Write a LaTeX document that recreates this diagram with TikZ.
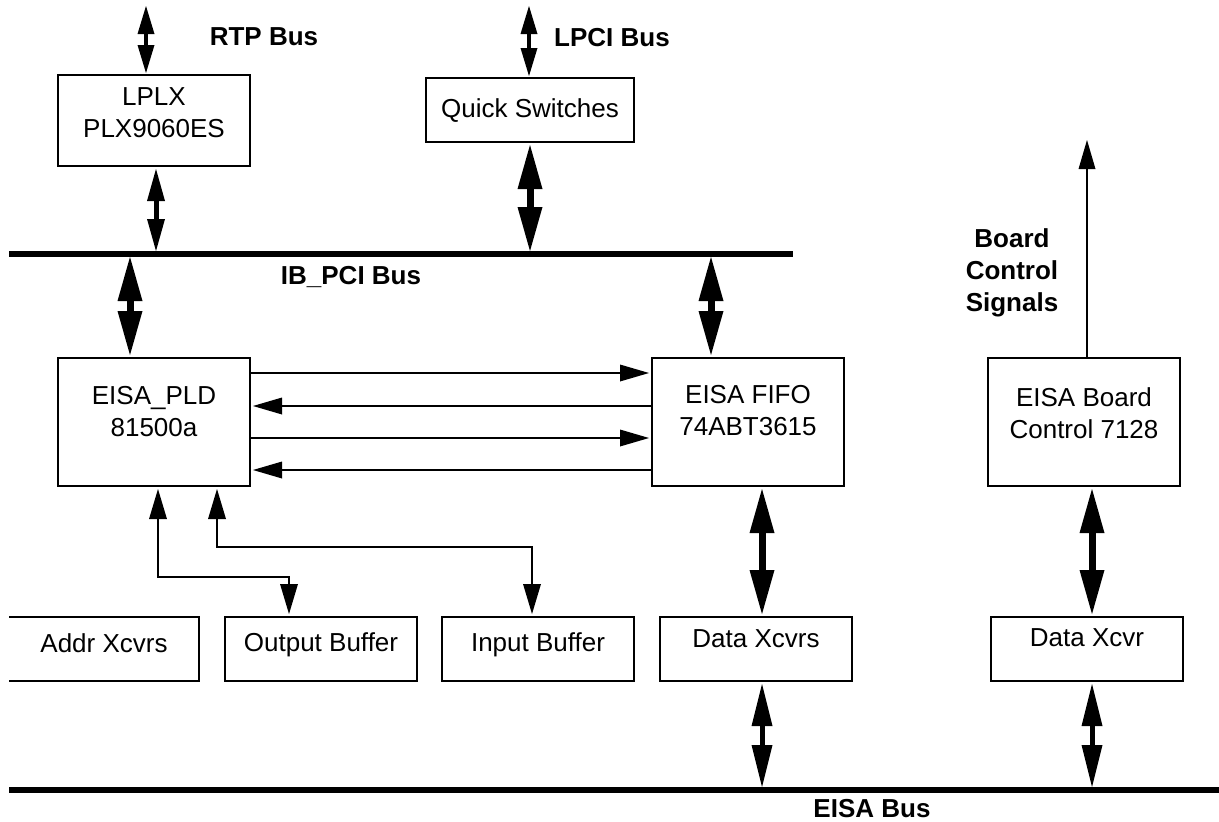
\documentclass[tikz,border=0pt]{standalone}
\usepackage{fontspec}
\setmainfont{Liberation Sans}
\usepackage{tikz}
\usetikzlibrary{arrows.meta,positioning,calc}
\newcommand{\blkfont}{\fontsize{26}{32}\selectfont}
\tikzset{
  blk/.style={draw, line width=2.5pt, minimum width=192pt, minimum height=64pt,
    inner sep=0pt, outer sep=0pt, align=center, font=\blkfont},
  lbl/.style={font=\blkfont\bfseries, align=center, inner sep=0pt, text depth=0pt},
  busline/.style={line width=6pt},
  % one-way signal lines
  sig/.style={line width=2.5pt, -{Triangle[length=29pt,width=17pt,line width=0pt]},
    shorten >=3pt},
  sigbi/.style={line width=2.5pt,
    {Triangle[length=30pt,width=18pt,line width=0pt]}-{Triangle[length=30pt,width=18pt,line width=0pt]},
    shorten >=3pt, shorten <=3pt},
  % two-way bus links
  thinbi/.style={line width=4pt,
    {Triangle[length=28pt,width=17pt,line width=0pt]}-{Triangle[length=28pt,width=17pt,line width=0pt]},
    shorten >=2pt, shorten <=3pt},
  midbi/.style={line width=5pt,
    {Triangle[length=32pt,width=18pt,line width=0pt]}-{Triangle[length=32pt,width=18pt,line width=0pt]},
    shorten >=3pt, shorten <=3pt},
  lowbi/.style={line width=5pt,
    {Triangle[length=42pt,width=21pt,line width=0pt]}-{Triangle[length=42pt,width=21pt,line width=0pt]},
    shorten >=3pt, shorten <=3pt},
  fatbi/.style={line width=7pt,
    {Triangle[length=44pt,width=25pt,line width=0pt]}-{Triangle[length=44pt,width=25pt,line width=0pt]},
    shorten >=3pt, shorten <=3pt},
}

\begin{document}
\begin{tikzpicture}[x=1pt,y=-1pt]
  \useasboundingbox (0,0) rectangle (1219,822);
  % buses
  \coordinate (ibL) at (9,254);
  \coordinate (ibR) at (793,254);
  \coordinate (eisaL) at (9,790);
  \coordinate (eisaR) at (1219,790);
  \coordinate (rtptop) at (146,3);
  \coordinate (lpcitop) at (529,3);
  \coordinate (sigtop) at (1087,137);
  \draw[busline] (ibL) -- (ibR);
  \draw[busline] (eisaL) -- (eisaR);

  \node[lbl] (rtplbl) at (264,37) {RTP Bus};
  \node[lbl] (lpcilbl) at (612,37) {LPCI Bus};
  \node[lbl] (iblbl) at (351,275) {IB\_PCI Bus};
  \node[lbl] (eisalbl) at (872,808) {EISA Bus};
  \node[lbl] (sigslbl) at (1012,270) {Board\\Control\\Signals};

  % blocks
  \node[blk, minimum height=91pt, text depth=16pt] (lplx) at (154,120.5) {LPLX\\PLX9060ES};
  \node[blk, minimum width=208pt, text depth=4pt] (qsw) at (530,110) {Quick Switches};
  \node[blk, minimum height=128pt, text depth=22pt] (pld) at (154,422) {EISA\_PLD\\81500a};
  \node[blk, minimum height=128pt, text depth=24pt] (fifo) at (748,422) {EISA FIFO\\74ABT3615};
  \node[blk, minimum height=128pt, text depth=18pt] (board) at (1084,422) {EISA Board\\Control 7128};
  \node[blk, draw=none, minimum width=190pt, text depth=12pt] (addr) at (104,649) {Addr Xcvrs};
  \draw[line width=2.5pt] (addr.north west) -- (addr.north east) -- (addr.south east) -- (addr.south west);
  \node[blk, text depth=14pt] (outbuf) at (321,649) {Output Buffer};
  \node[blk, text depth=14pt] (inbuf) at (538,649) {Input Buffer};
  \node[blk, text depth=20pt] (dxcvrs) at (756,649) {Data Xcvrs};
  \node[blk, text depth=22pt] (dxcvr) at (1087,649) {Data Xcvr};

  % links
  \draw[thinbi] (rtptop) -- (rtptop |- lplx.north);
  \draw[thinbi] (lpcitop) -- (lpcitop |- qsw.north);
  \draw[midbi] ([xshift=2pt]lplx.south) -- ([xshift=2pt]lplx.south |- ibL);
  \draw[fatbi] (qsw.south) -- (qsw.south |- ibL);
  \draw[fatbi] ([xshift=-24pt]pld.north |- ibL) -- ([xshift=-24pt]pld.north);
  \draw[fatbi] ([xshift=-37pt]fifo.north |- ibL) -- ([xshift=-37pt]fifo.north);
  \foreach \dy/\src/\dst in {49/pld.east/fifo.west, 16/fifo.west/pld.east,
                             -16/pld.east/fifo.west, -48/fifo.west/pld.east}
    \draw[sig] ([yshift=\dy pt]\src) -- ([yshift=\dy pt]\dst);
  \draw[sigbi] ([xshift=4pt]pld.south) -- ++(0,91) -| ([xshift=-32pt]outbuf.north);
  \draw[sigbi] ([xshift=63pt]pld.south) -- ++(0,61) -| ([xshift=-6pt]inbuf.north);
  \draw[fatbi] ([xshift=14pt]fifo.south) -- ([xshift=14pt]fifo.south |- dxcvrs.north);
  \draw[fatbi] ([xshift=8pt]board.south) -- ([xshift=8pt]board.south |- dxcvr.north);
  \draw[sig] ([xshift=3pt]board.north) -- (sigtop);
  \draw[lowbi] ([xshift=6pt]dxcvrs.south) -- ([xshift=6pt]dxcvrs.south |- eisaL);
  \draw[lowbi] ([xshift=5pt]dxcvr.south) -- ([xshift=5pt]dxcvr.south |- eisaL);
\end{tikzpicture}
\end{document}
